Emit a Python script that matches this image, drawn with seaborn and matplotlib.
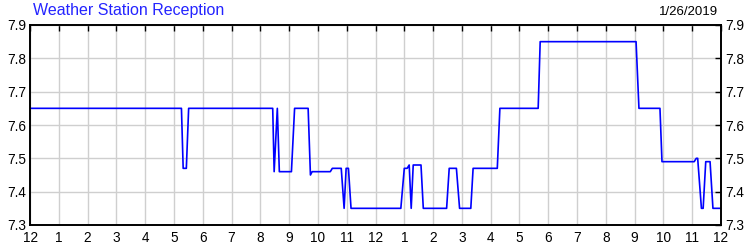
import matplotlib
matplotlib.use("Agg")
import matplotlib.pyplot as plt
import seaborn as sns
import pandas as pd

# ---- data ----
hours = [0.00, 5.26, 5.32, 5.43, 5.51, 8.43, 8.48, 8.59, 8.66, 9.08,
         9.19, 9.66, 9.74, 9.80, 10.43, 10.50, 10.81, 10.91, 10.98, 11.06,
         11.15, 12.88, 13.00, 13.10, 13.17, 13.24, 13.31, 13.58, 13.66, 14.47,
         14.56, 14.81, 14.92, 15.31, 15.39, 16.23, 16.32, 17.65, 17.72, 21.05,
         21.15, 21.88, 21.95, 23.07, 23.14, 23.19, 23.32, 23.38, 23.47, 23.62,
         23.72, 24.00]
reception = [7.65, 7.65, 7.47, 7.47, 7.65, 7.65, 7.46, 7.65, 7.46, 7.46,
             7.65, 7.65, 7.45, 7.46, 7.46, 7.47, 7.47, 7.35, 7.47, 7.47,
             7.35, 7.35, 7.47, 7.47, 7.48, 7.35, 7.48, 7.48, 7.35, 7.35,
             7.47, 7.47, 7.35, 7.35, 7.47, 7.47, 7.65, 7.65, 7.85, 7.85,
             7.65, 7.65, 7.49, 7.49, 7.50, 7.50, 7.35, 7.35, 7.49, 7.49,
             7.35, 7.35]
x_ticks = list(range(0, 25))
x_tick_labels = ["12", "1", "2", "3", "4", "5", "6", "7", "8", "9", "10", "11",
                 "12", "1", "2", "3", "4", "5", "6", "7", "8", "9", "10", "11", "12"]
y_ticks = [7.3, 7.4, 7.5, 7.6, 7.7, 7.8, 7.9]
title_text = "Weather Station Reception"
date_text = "1/26/2019"

sns.set_theme(style="white")
plt.rcParams["font.family"] = ["Liberation Sans", "DejaVu Sans"]

df = pd.DataFrame({"hour": hours, "value": reception})

fig = plt.figure(figsize=(7.5, 2.5), dpi=100)
ax = fig.add_axes([30 / 750, 25 / 250, 691 / 750, 200 / 250])

sns.lineplot(data=df, x="hour", y="value", ax=ax, sort=False, estimator=None,
             color="#0000FF", linewidth=1.2)

ax.set_xlim(0, 24)
ax.set_ylim(7.3, 7.9)
ax.set_xticks(x_ticks)
ax.set_xticklabels(x_tick_labels)
ax.set_yticks(y_ticks)
ax.set_yticklabels([f"{v:.1f}" for v in y_ticks])
ax.set_xlabel("")
ax.set_ylabel("")

ax.grid(True, color="#cfcfcf", linewidth=1.0)
ax.set_axisbelow(True)
for s in ax.spines.values():
    s.set_visible(True)
    s.set_color("black")
    s.set_linewidth(1.4)

ax.tick_params(axis="both", direction="in", length=4, width=1, color="black",
               labelsize=9.8, labelcolor="black",
               top=True, right=True, labelright=True)
ax.tick_params(axis="x", pad=4)
ax.tick_params(axis="y", pad=3)

fig.text(33 / 750, 1 - 11 / 250, title_text, color="#2424FF", fontsize=11.5,
         ha="left", va="center")
fig.text(718 / 750, 1 - 12 / 250, date_text, color="black", fontsize=9.5,
         ha="right", va="center")

fig.savefig("out.png", dpi=100)
